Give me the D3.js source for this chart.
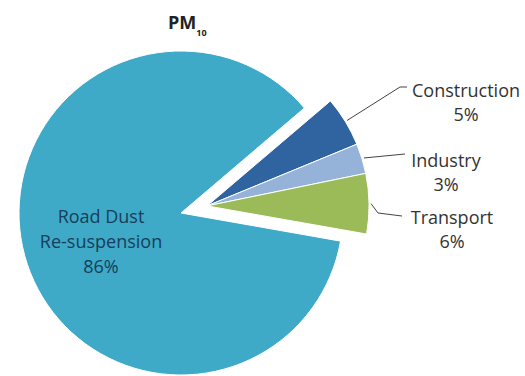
<!DOCTYPE html>
<html>
<head>
<meta charset="utf-8">
<script src="https://cdn.jsdelivr.net/npm/d3@7"></script>
<style>
  body { margin: 0; background: #fff; }
  svg { display: block; }
  text { font-family: "Open Sans", sans-serif; }
</style>
</head>
<body>
<svg></svg>
<script>
// chart data
const categories = ["Construction", "Industry", "Transport", "Road Dust Re-suspension"];
const values = [5, 3, 6, 86];
const labelLines = [["Construction", "5%"], ["Industry", "3%"], ["Transport", "6%"], ["Road Dust", "Re-suspension", "86%"]];

const width = 525, height = 376;
const cx = 181, cy = 213, radius = 162, explode = 27;
const colors = ["#2f64a0", "#95b3d8", "#9bbb59", "#3eaac8"];

const svg = d3.select("svg")
    .attr("width", width)
    .attr("height", height);

// transport ends at 100deg (clockwise from 12 o'clock), small slices come first
const total = d3.sum(values);
const smallSum = d3.sum(values.slice(0, 3));
const start = 100 * Math.PI / 180 - smallSum / total * 2 * Math.PI;

const pie = d3.pie().sort(null).value(d => d)
    .startAngle(start).endAngle(start + 2 * Math.PI);
const arcs = pie(values);

const arc = d3.arc().innerRadius(0).outerRadius(radius);

// the three small slices are pulled out together along their common bisector
const mid = (arcs[0].startAngle + arcs[2].endAngle) / 2;
const dx = Math.sin(mid) * explode, dy = -Math.cos(mid) * explode;

const g = svg.append("g").attr("transform", "translate(" + cx + "," + cy + ")");

g.selectAll("path.slice")
    .data(arcs)
    .enter().append("path")
    .attr("class", "slice")
    .attr("transform", (d, i) => i < 3 ? "translate(" + dx + "," + dy + ")" : null)
    .attr("d", arc)
    .style("fill", (d, i) => colors[i])
    .style("stroke", "#fff")
    .style("stroke-width", 1);

// label anchors for the outside labels (leader elbow, text center)
const outside = [
  {lx: 400, ly: 87, hx: 407, tx: 466, ty: 97},
  {lx: 405, ly: 154, hx: 405, tx: 446, ty: 167},
  {lx: 378, ly: 213, hx: 402, tx: 452, ty: 224}
];

arcs.slice(0, 3).forEach((d, i) => {
  const a = (d.startAngle + d.endAngle) / 2;
  const r = radius + 2;
  const sx = cx + dx + Math.sin(a) * r, sy = cy + dy - Math.cos(a) * r;
  const o = outside[i];
  const pts = i === 2 ? [[sx, sy], [o.lx, o.ly], [o.hx, o.ly + 3]] : [[sx, sy], [o.lx, o.ly], [o.hx, o.ly]];
  svg.append("polyline")
      .attr("points", pts.map(p => p.join(",")).join(" "))
      .style("fill", "none")
      .style("stroke", "#444")
      .style("stroke-width", 1);

  const t = svg.append("text")
      .attr("x", o.tx)
      .attr("y", o.ty)
      .attr("text-anchor", "middle")
      .style("font-size", "18px")
      .style("fill", "#333");
  labelLines[i].forEach((line, j) => {
    t.append("tspan").attr("x", o.tx).attr("dy", j === 0 ? 0 : 24).text(line);
  });
});

// label inside the big slice
const inner = svg.append("text")
    .attr("x", 101)
    .attr("y", 223)
    .attr("text-anchor", "middle")
    .style("font-size", "18px")
    .style("fill", "#173e5a");
labelLines[3].forEach((line, j) => {
  inner.append("tspan").attr("x", 101).attr("dy", j === 0 ? 0 : 25).text(line);
});

// title PM10
const title = svg.append("text")
    .attr("x", 168)
    .attr("y", 29)
    .style("font-size", "18px")
    .style("font-weight", "bold")
    .style("fill", "#222");
title.append("tspan").text("PM");
title.append("tspan").attr("dy", 7).style("font-size", "9px").text("10");
</script>
</body>
</html>
